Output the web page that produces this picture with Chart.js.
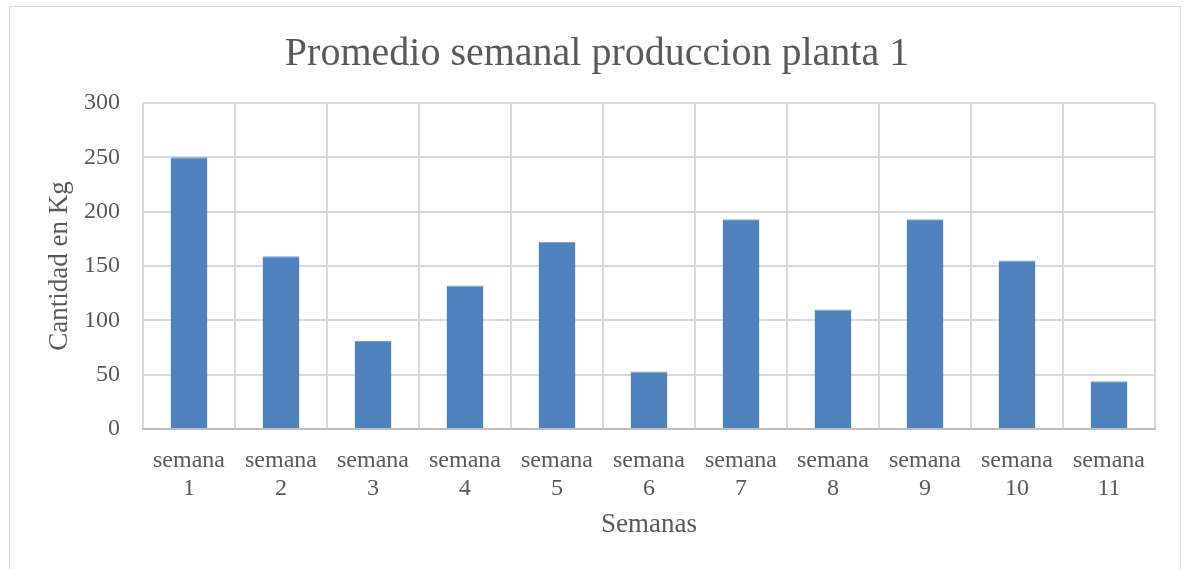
<!DOCTYPE html>
<html>
<head>
<meta charset="utf-8">
<script src="https://cdn.jsdelivr.net/npm/chart.js@4/dist/chart.umd.min.js"></script>
<style>
    body { margin: 0; background: #fff; }
    #frame {
        position: absolute; left: 9px; top: 6px; width: 1172px; height: 580px;
        border: 1px solid #d9d9d9; box-sizing: border-box;
    }
    #wrap { position: absolute; left: 0; top: 0; width: 1184px; height: 569px; }
</style>
</head>
<body>
<div id="frame"></div>
<div id="wrap"><canvas id="myChart"></canvas></div>
<script>
// Datos del grafico
const semanas = [
    ['semana', '1'], ['semana', '2'], ['semana', '3'], ['semana', '4'],
    ['semana', '5'], ['semana', '6'], ['semana', '7'], ['semana', '8'],
    ['semana', '9'], ['semana', '10'], ['semana', '11']
];
const cantidades = [250, 159, 81, 132, 172, 53, 193, 110, 193, 155, 44];
const ejeY = { min: 0, max: 300, step: 50 };

const textColor = '#595959';
const fuente = "'Liberation Serif', serif";

const ctx = document.getElementById('myChart').getContext('2d');

new Chart(ctx, {
    type: 'bar',
    data: {
        labels: semanas,
        datasets: [{
            label: 'Cantidad',
            data: cantidades,
            backgroundColor: '#4f81bd',
            borderColor: '#7a9fd0',
            borderWidth: { top: 1, left: 0, right: 0, bottom: 0 },
            barPercentage: 0.4,
            categoryPercentage: 1
        }]
    },
    options: {
        responsive: true,
        maintainAspectRatio: false,
        animation: false,
        layout: { padding: { left: 39, right: 29, top: 0, bottom: 28 } },
        plugins: {
            legend: { display: false },
            tooltip: { enabled: false },
            title: {
                display: true,
                text: 'Promedio semanal produccion planta 1',
                color: textColor,
                font: { family: fuente, size: 40, weight: 'normal' },
                padding: { top: 30, bottom: 25 }
            }
        },
        scales: {
            x: {
                grid: { color: '#d9d9d9', lineWidth: 2, drawTicks: false, offset: true },
                border: { color: '#bfbfbf', width: 2 },
                ticks: {
                    color: textColor,
                    padding: 18,
                    maxRotation: 0,
                    autoSkip: false,
                    font: { family: fuente, size: 24, lineHeight: 1.17 }
                },
                title: {
                    display: true,
                    text: 'Semanas',
                    color: textColor,
                    font: { family: fuente, size: 27, lineHeight: 1.2 },
                    padding: { top: 0, bottom: 0 }
                },
                afterFit: function(scale) { scale.height = 112; }
            },
            y: {
                min: ejeY.min,
                max: ejeY.max,
                grid: { color: '#d9d9d9', lineWidth: 2, drawTicks: false },
                border: { display: false },
                ticks: {
                    stepSize: ejeY.step,
                    color: textColor,
                    padding: 23,
                    font: { family: fuente, size: 24 }
                },
                title: {
                    display: true,
                    text: 'Cantidad en Kg',
                    color: textColor,
                    font: { family: fuente, size: 27, lineHeight: 1.2 },
                    padding: { top: 5, bottom: 0 }
                },
                afterFit: function(scale) { scale.width = 104; }
            }
        }
    }
});
</script>
</body>
</html>
